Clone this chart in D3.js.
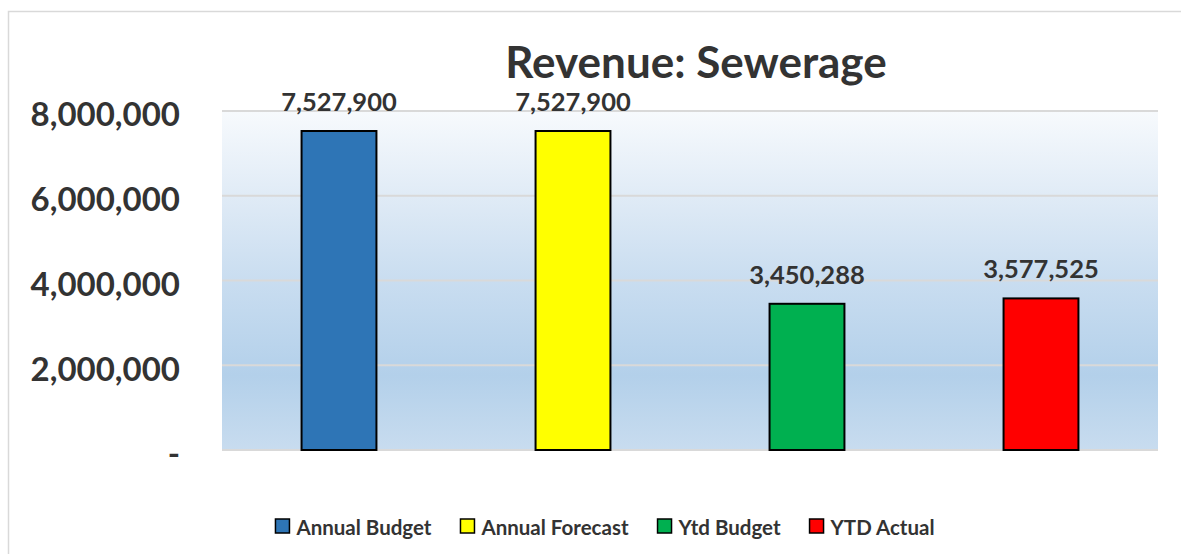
<!DOCTYPE html>
<html>
<head>
<meta charset="utf-8">
<script src="https://cdn.jsdelivr.net/npm/d3@7"></script>
<style>
  body { margin: 0; background: #fff; }
  svg text { font-family: Lato, "Open Sans", sans-serif; font-weight: bold; fill: #333; }
</style>
</head>
<body>
<div id="chart"></div>
<script>
// chart data
const categories = ["Annual Budget", "Annual Forecast", "Ytd Budget", "YTD Actual"];
const values = [7527900, 7527900, 3450288, 3577525];
const colors = ["#2e75b6", "#ffff00", "#00b050", "#ff0000"];
const yTicks = [0, 2000000, 4000000, 6000000, 8000000];
const title = "Revenue: Sewerage";

var width = 1181, height = 554;
var margin = {top: 111, right: 23, bottom: 104, left: 222};

var svg = d3.select("#chart")
    .append("svg")
    .attr("width", width)
    .attr("height", height);

// outer chart border
svg.append("rect")
    .attr("x", 8.5).attr("y", 11.5)
    .attr("width", 1200).attr("height", 600)
    .attr("fill", "none")
    .attr("stroke", "#d9d9d9")
    .attr("stroke-width", 1.5);

var x = d3.scaleBand()
    .domain(categories)
    .range([margin.left, width - margin.right])
    .paddingInner(0.68)
    .paddingOuter(0.34);

var y = d3.scaleLinear()
    .domain([0, 8000000])
    .range([height - margin.bottom, margin.top]);

// plot area gradient
var grad = svg.append("defs").append("linearGradient")
    .attr("id", "bg").attr("x1", 0).attr("y1", 0).attr("x2", 0).attr("y2", 1);
grad.append("stop").attr("offset", "0%").attr("stop-color", "#f7fafd");
grad.append("stop").attr("offset", "25%").attr("stop-color", "#e0ebf6");
grad.append("stop").attr("offset", "50%").attr("stop-color", "#c9ddf0");
grad.append("stop").attr("offset", "78%").attr("stop-color", "#b3d0ea");
grad.append("stop").attr("offset", "100%").attr("stop-color", "#c8dcef");

svg.append("rect")
    .attr("x", margin.left)
    .attr("y", y(8000000))
    .attr("width", width - margin.right - margin.left)
    .attr("height", y(0) - y(8000000))
    .attr("fill", "url(#bg)");

// gridlines
svg.append("g")
    .selectAll("line")
    .data(yTicks)
    .enter()
    .append("line")
    .attr("x1", margin.left)
    .attr("x2", width - margin.right)
    .attr("y1", d => y(d))
    .attr("y2", d => y(d))
    .attr("stroke", "#d9d9d9")
    .attr("stroke-width", 2);

// y axis labels
var yAxis = svg.append("g")
    .attr("transform", "translate(180,0)")
    .call(d3.axisLeft(y).tickValues(yTicks).tickSize(0).tickPadding(0)
          .tickFormat(d => d === 0 ? "-" : d3.format(",")(d)));
yAxis.select(".domain").remove();
yAxis.selectAll("text")
    .attr("fill", "#333")
    .style("font-size", "33px")
    .attr("dy", "0.45em");

// bars
svg.append("g")
    .selectAll("rect")
    .data(values)
    .enter()
    .append("rect")
    .attr("x", (d, i) => x(categories[i]))
    .attr("y", d => y(d))
    .attr("width", x.bandwidth())
    .attr("height", d => y(0) - y(d))
    .attr("fill", (d, i) => colors[i])
    .attr("stroke", "#000")
    .attr("stroke-width", 2);

// value labels
svg.append("g")
    .selectAll("text")
    .data(values)
    .enter()
    .append("text")
    .attr("x", (d, i) => x(categories[i]) + x.bandwidth() / 2)
    .attr("y", d => y(d) - 20)
    .attr("text-anchor", "middle")
    .style("font-size", "25.5px")
    .text(d => d3.format(",")(d));

// title
svg.append("text")
    .attr("x", 696)
    .attr("y", 78)
    .attr("text-anchor", "middle")
    .style("font-size", "44px")
    .text(title);

// legend
var legend = svg.append("g");
var items = legend.selectAll("g")
    .data(categories)
    .enter()
    .append("g");
items.append("rect")
    .attr("width", 14).attr("height", 14)
    .attr("y", 519)
    .attr("fill", (d, i) => colors[i])
    .attr("stroke", "#000")
    .attr("stroke-width", 1.5);
items.append("text")
    .attr("x", 21)
    .attr("y", 535)
    .style("font-size", "20.5px")
    .text(d => d);

var pos = 0;
items.each(function() {
    var g = d3.select(this);
    g.attr("transform", "translate(" + pos + ",0)");
    pos += 21 + g.select("text").node().getComputedTextLength() + 29;
});
var legendWidth = pos - 29;
legend.attr("transform", "translate(" + (605 - legendWidth / 2) + ",0)");
</script>
</body>
</html>
